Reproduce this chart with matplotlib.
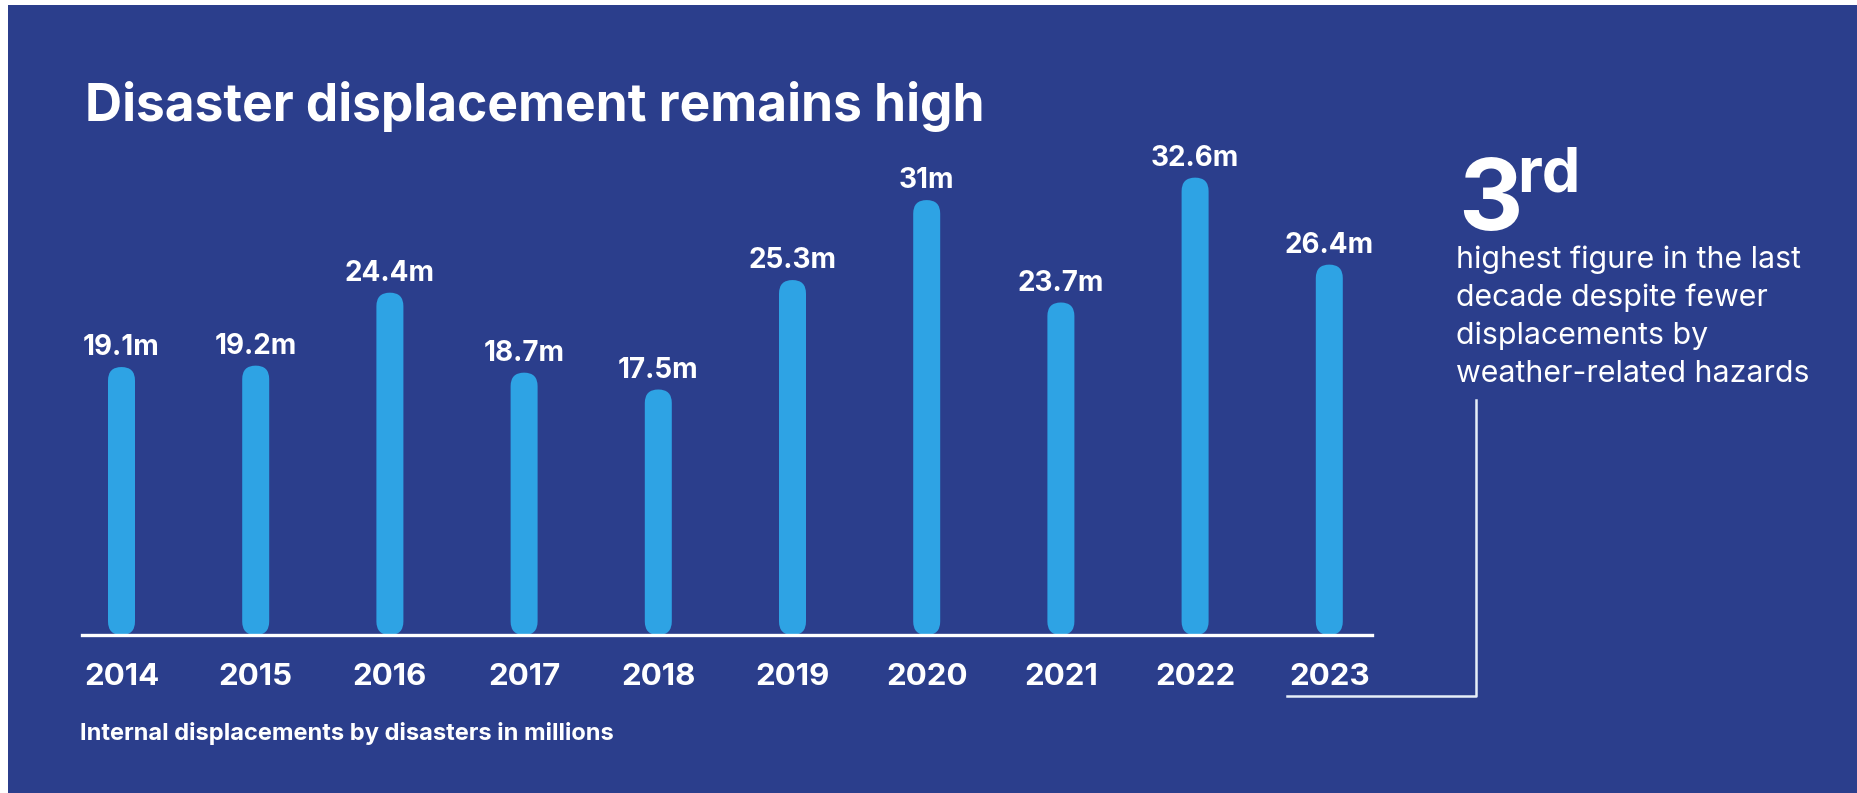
import matplotlib
matplotlib.use("Agg")
import matplotlib.pyplot as plt
from matplotlib.patches import FancyBboxPatch, Rectangle
from matplotlib.lines import Line2D

# ---- data ----
years = ["2014", "2015", "2016", "2017", "2018", "2019", "2020", "2021", "2022", "2023"]
values = [19.1, 19.2, 24.4, 18.7, 17.5, 25.3, 31.0, 23.7, 32.6, 26.4]
value_labels = ["19.1m", "19.2m", "24.4m", "18.7m", "17.5m", "25.3m", "31m", "23.7m", "32.6m", "26.4m"]
title = "Disaster displacement remains high"
big_rank = "3"
big_rank_suffix = "rd"
note_lines = ["highest figure in the last", "decade despite fewer",
              "displacements by", "weather-related hazards"]
footnote = "Internal displacements by disasters in millions"

# ---- style ----
BG = "#2B3E8C"
BAR = "#2EA3E4"
WHITE = "#FFFFFF"
FONT = "Inter"
W, H = 1857, 793
DPI = 100

fig = plt.figure(figsize=(W / DPI, H / DPI), dpi=DPI, facecolor="white")
fig.patches.append(Rectangle((8 / W, 0), 1 - 8 / W, 1 - 5 / H, transform=fig.transFigure,
                             facecolor=BG, edgecolor="none", zorder=-10))

def fx(px):
    return px / W

def fy(py_top):
    return 1 - py_top / H

def fit_width(t, target_px):
    r = fig.canvas.get_renderer()
    bb = t.get_window_extent(r)
    t.set_fontsize(t.get_fontsize() * target_px / bb.width)

# axes placement (pixels from top-left)
ax_l, ax_r, ax_base, ax_top = 82, 1372, 635, 130
ax = fig.add_axes([fx(ax_l), fy(ax_base), (ax_r - ax_l) / W, (ax_base - ax_top) / H])
ax.set_facecolor("none")
x0_px, step_px = 121.5, 134.2
ax.set_xlim(-(x0_px - ax_l) / step_px, 9 + (ax_r - (x0_px + 9 * step_px)) / step_px)
px_per_unit_y = 14.03
ax.set_ylim(0, (ax_base - ax_top) / px_per_unit_y)
for s in ax.spines.values():
    s.set_visible(False)
ax.set_yticks([])

xs = list(range(len(years)))
bar_w = 27 / step_px
bars = ax.bar(xs, values, width=bar_w, color=BAR, zorder=2)
aspect = step_px / px_per_unit_y
for rect in bars:
    x, y = rect.get_x(), rect.get_y()
    w, h = rect.get_width(), rect.get_height()
    rect.set_visible(False)
    fb = FancyBboxPatch((x, y), w, h, boxstyle=f"round,pad=0,rounding_size={w/2}",
                        mutation_aspect=aspect, facecolor=BAR, edgecolor="none", zorder=2)
    ax.add_patch(fb)

val_texts = []
for xi, v, lab in zip(xs, values, value_labels):
    t = ax.annotate(lab, (xi, v), xytext=(0, 8.6), textcoords="offset points",
                    ha="center", va="baseline", color=WHITE, fontsize=17,
                    fontfamily=FONT, fontweight="bold")
    val_texts.append(t)

ax.axhline(0, color=WHITE, lw=2.4, zorder=3, clip_on=False)

ax.set_xticks(xs)
ax.set_xticklabels(years, fontsize=22.5, fontfamily=FONT, fontweight="bold", color=WHITE)
ax.tick_params(axis="x", length=0, pad=20.5)

# title
t_title = fig.text(fx(85), fy(121), title, fontsize=35, fontfamily=FONT, fontweight="bold",
                   color=WHITE, ha="left", va="baseline")

# big rank
fig.text(fx(1458), fy(230), big_rank, fontsize=72, fontfamily=FONT, fontweight="bold",
         color=WHITE, ha="left", va="baseline")
fig.text(fx(1517), fy(192), big_rank_suffix, fontsize=44, fontfamily=FONT, fontweight="bold",
         color=WHITE, ha="left", va="baseline")

# note lines
baselines = [268, 306, 344, 382]
note_texts = []
for line, b in zip(note_lines, baselines):
    note_texts.append(fig.text(fx(1456), fy(b), line, fontsize=21, fontfamily=FONT,
                               color=WHITE, ha="left", va="baseline"))

# bracket
fig.add_artist(Line2D([fx(1476), fx(1476), fx(1287)], [fy(400), fy(696), fy(696)],
                      transform=fig.transFigure, color="#E6EEF8", lw=1.8))

# footnote
t_foot = fig.text(fx(80), fy(740), footnote, fontsize=12.5, fontfamily=FONT, fontweight="bold",
                  color=WHITE, ha="left", va="baseline")

# size text to the reference widths
fig.canvas.draw()
fit_width(t_title, 898)
fit_width(t_foot, 535)
fit_width(note_texts[3], 353)
for t in note_texts[:3]:
    t.set_fontsize(note_texts[3].get_fontsize())
fit_width(val_texts[0], 77)
for t in val_texts[1:]:
    t.set_fontsize(val_texts[0].get_fontsize())

fig.savefig("out.png", dpi=DPI, facecolor=fig.get_facecolor())
